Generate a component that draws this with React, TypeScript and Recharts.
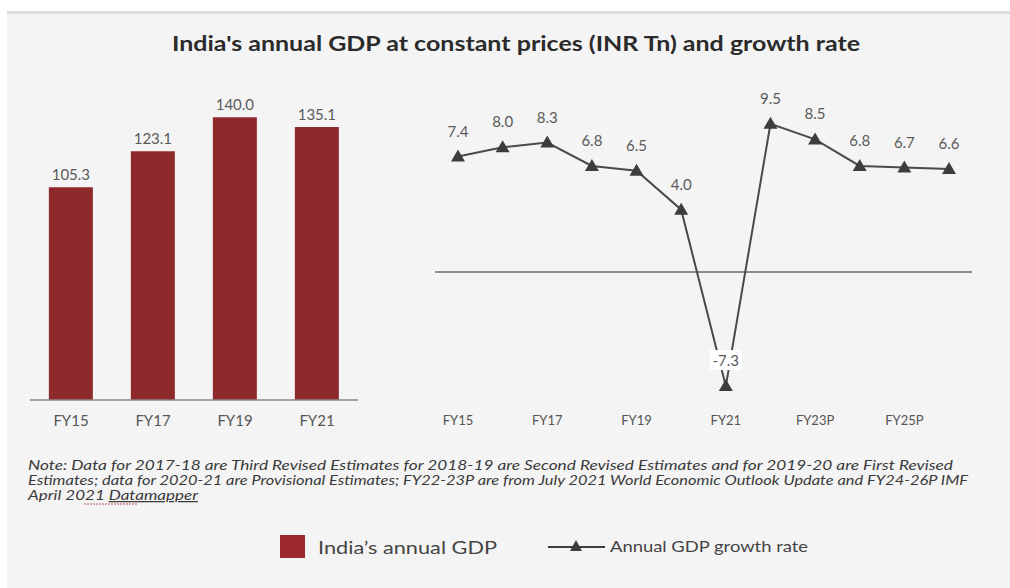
import React from 'react';
import { BarChart, Bar, LineChart, Line, XAxis, YAxis, LabelList, ReferenceLine } from 'recharts';

// GDP at constant prices (INR Tn)
const gdpYears = ['FY15', 'FY17', 'FY19', 'FY21'];
const gdpValues = [105.3, 123.1, 140.0, 135.1];

// annual growth rate (%)
const growthYears = ['FY15', 'FY16', 'FY17', 'FY18', 'FY19', 'FY20', 'FY21', 'FY22P', 'FY23P', 'FY24P', 'FY25P', 'FY26P'];
const growthRate = [7.4, 8.0, 8.3, 6.8, 6.5, 4.0, -7.3, 9.5, 8.5, 6.8, 6.7, 6.6];

const noteLines = [
  'Note: Data for 2017-18 are Third Revised Estimates for 2018-19 are Second Revised Estimates and for 2019-20 are First Revised',
  'Estimates; data for 2020-21 are Provisional Estimates; FY22-23P are from July 2021 World Economic Outlook Update and FY24-26P IMF',
];

const BAR_COLOR = '#8f2a2c';
const LINE_COLOR = '#4a4a4a';
const FONT = 'Lato, "Open Sans", sans-serif';

const barData = gdpYears.map((y, i) => ({ year: y, gdp: gdpValues[i] }));
const lineData = growthYears.map((y, i) => ({ year: y, rate: growthRate[i] }));

const Triangle = (props: any) => {
  const { cx, cy, index } = props;
  if (cx == null || cy == null) return <g key={`t-${index}`} />;
  return <path key={`t-${index}`} d={`M${cx},${cy - 7} L${cx + 7},${cy + 5} L${cx - 7},${cy + 5} Z`} fill="#3d3d3d" />;
};

const RateLabel = (props: any) => {
  const { x, y, value, index } = props;
  const txt = Number(value).toFixed(1);
  return (
    <g key={`l-${index}`}>
      {value < 0 && <rect x={x - 16} y={y - 36} width={32} height={20} fill="#ffffff" />}
      <text x={x} y={y - 20} textAnchor="middle" fontSize={15} fill="#5a5a5a" fontFamily={FONT}>
        {txt}
      </text>
    </g>
  );
};

export default function App() {
  return (
    <div style={{ position: 'absolute', left: 0, top: 0, width: 1010, height: 588, background: '#fff', overflow: 'hidden' }}>
      <div
        style={{
          position: 'absolute', left: 7, top: 11, width: 1003, height: 577,
          background: '#f4f4f4', borderTop: '3px solid #dedede', boxSizing: 'border-box',
        }}
      />

      <div style={{ position: 'absolute', left: 0, top: 80 }}>
        <BarChart width={360} height={350} data={barData} margin={{ top: 17, right: 2, bottom: 0, left: 30 }} barCategoryGap="23%">
          <XAxis
            dataKey="year"
            height={30}
            tickLine={false}
            tickSize={0}
            tickMargin={15}
            axisLine={{ stroke: '#8a8a8a', strokeWidth: 1.5 }}
            tick={{ fill: '#555', fontSize: 15, fontFamily: FONT }}
          />
          <YAxis hide domain={[0, 150]} />
          <Bar dataKey="gdp" fill={BAR_COLOR} isAnimationActive={false}>
            <LabelList
              dataKey="gdp"
              position="top"
              offset={7}
              formatter={(v: any) => Number(v).toFixed(1)}
              style={{ fill: '#5a5a5a', fontSize: 15, fontFamily: FONT }}
            />
          </Bar>
        </BarChart>
      </div>

      <div style={{ position: 'absolute', left: 420, top: 90 }}>
        <LineChart width={570} height={347} data={lineData} margin={{ top: 26, right: 18, bottom: 0, left: 15 }}>
          <XAxis
            dataKey="year"
            height={40}
            interval={1}
            axisLine={false}
            tickLine={false}
            tickSize={0}
            tickMargin={19}
            padding={{ left: 23, right: 23 }}
            tick={{ fill: '#555', fontSize: 13, fontFamily: FONT }}
          />
          <YAxis hide domain={[-8, 10]} />
          <ReferenceLine y={0} stroke="#6a6a6a" strokeWidth={1.5} />
          <Line
            type="linear"
            dataKey="rate"
            stroke={LINE_COLOR}
            strokeWidth={2}
            dot={Triangle}
            activeDot={false}
            isAnimationActive={false}
          >
            <LabelList dataKey="rate" content={RateLabel} />
          </Line>
        </LineChart>
      </div>

      <svg width={1010} height={588} style={{ position: 'absolute', left: 0, top: 0, pointerEvents: 'none' }}>
        <text x={516} y={51} textAnchor="middle" fontSize={20} fontWeight="bold" fill="#2b2b2b" fontFamily={FONT} textLength={688} lengthAdjust="spacingAndGlyphs">
          India's annual GDP at constant prices (INR Tn) and growth rate
        </text>

        {noteLines.map((t, i) => (
          <text key={i} x={28} y={470 + i * 15} fontSize={12.5} fontStyle="italic" fill="#3a3a3a" fontFamily={FONT}
            textLength={i === 0 ? 925 : 940} lengthAdjust="spacingAndGlyphs">
            {t}
          </text>
        ))}
        <text x={28} y={500} fontSize={12.5} fontStyle="italic" fill="#3a3a3a" fontFamily={FONT} textLength={170} lengthAdjust="spacingAndGlyphs">
          April 2021 <tspan textDecoration="underline">Datamapper</tspan>
        </text>
        <line x1={84} y1={504} x2={138} y2={504} stroke="#c0504d" strokeWidth={1} strokeDasharray="2 1" />

        <rect x={280} y={535} width={25} height={23} fill="#9c2a2e" />
        <text x={318} y={554} fontSize={18} fill="#444" fontFamily={FONT} textLength={179} lengthAdjust="spacingAndGlyphs">
          India’s annual GDP
        </text>
        <line x1={548} y1={547} x2={605} y2={547} stroke="#3d3d3d" strokeWidth={2} />
        <path d="M576,540 L582,551 L570,551 Z" fill="#3d3d3d" />
        <text x={610} y={552} fontSize={15} fill="#444" fontFamily={FONT} textLength={198} lengthAdjust="spacingAndGlyphs">
          Annual GDP growth rate
        </text>
      </svg>
    </div>
  );
}
